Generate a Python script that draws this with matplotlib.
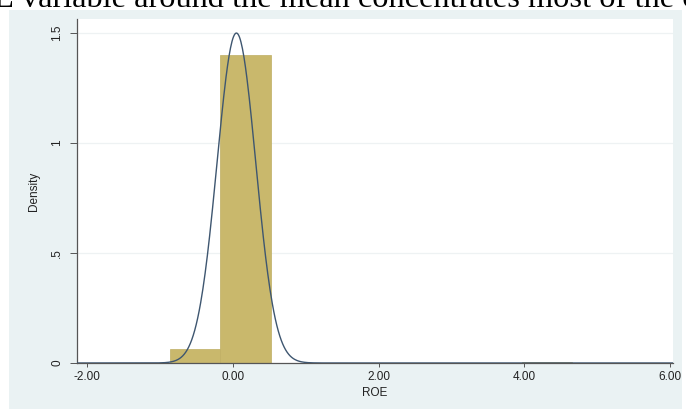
import numpy as np
import matplotlib
matplotlib.use("Agg")
import matplotlib.pyplot as plt
from matplotlib.patches import Rectangle

# ---- data ----
bin_left = [-0.86, -0.17, 0.52, 1.21, 1.90, 2.59, 3.28, 3.97]
bin_width = 0.69
bin_density = [0.064, 1.40, 0.0, 0.0, 0.0, 0.0, 0.0, 0.003]
normal_mean = 0.05
normal_sd = 0.266
x_ticks = [-2, 0, 2, 4, 6]
x_tick_labels = ["-2.00", "0.00", "2.00", "4.00", "6.00"]
y_ticks = [0, 0.5, 1, 1.5]
y_tick_labels = ["0", ".5", "1", "1.5"]
top_text = "E variable around the mean concentrates most of the o"

W, H = 686, 409
fig = plt.figure(figsize=(W / 100, H / 100), dpi=100)
fig.patch.set_facecolor("white")

# Stata-like graph region background
bg = fig.add_axes([0, 0, 1, 1], zorder=-5)
bg.set_xlim(0, W)
bg.set_ylim(H, 0)
bg.axis("off")
bg.add_patch(Rectangle((9, 10), 682 - 9, H - 10, facecolor="#eaf2f3", edgecolor="none"))

fig.text(-6 / W, 1 - 7 / H, top_text, family="Liberation Serif", fontsize=23.3,
         va="baseline", ha="left", color="black")

ax = fig.add_axes([77 / W, 1 - 363 / H, (673 - 77) / W, (363 - 19) / H], zorder=1)
ax.set_facecolor("white")

ax.bar(bin_left, bin_density, width=bin_width, align="edge",
       color="#c9b86c", edgecolor="#bfae62", linewidth=0.5, zorder=2)

xs = np.linspace(-2.14, 6.04, 800)
ys = np.exp(-0.5 * ((xs - normal_mean) / normal_sd) ** 2) / (normal_sd * np.sqrt(2 * np.pi))
ax.plot(xs, ys, color="#3e5670", linewidth=1.0, zorder=3)

ax.set_xlim(-2.137, 6.04)
ax.set_ylim(0, 1.5636)

for yv in [0.5, 1.0, 1.5]:
    ax.axhline(yv, color="#eef2f3", linewidth=0.9, zorder=1)

ax.set_xticks(x_ticks)
ax.set_xticklabels(x_tick_labels, family="Liberation Sans", fontsize=8.5, color="#222222")
ax.set_yticks(y_ticks)
ax.set_yticklabels(y_tick_labels, family="Liberation Sans", fontsize=8.5, color="#222222",
                   rotation=90, va="center")
ax.tick_params(axis="x", length=3, width=0.7, color="#555555", pad=3)
ax.tick_params(axis="y", length=5, width=0.7, color="#555555", pad=5)

for s in ["top", "right"]:
    ax.spines[s].set_visible(False)
for s in ["left", "bottom"]:
    ax.spines[s].set_color("#555555")
    ax.spines[s].set_linewidth(0.9)

ax.set_xlabel("ROE", family="Liberation Sans", fontsize=8.5, color="#222222", labelpad=3)
ax.set_ylabel("Density", family="Liberation Sans", fontsize=8.5, color="#222222", labelpad=8)

fig.savefig("out.png", dpi=100, facecolor=fig.get_facecolor())
